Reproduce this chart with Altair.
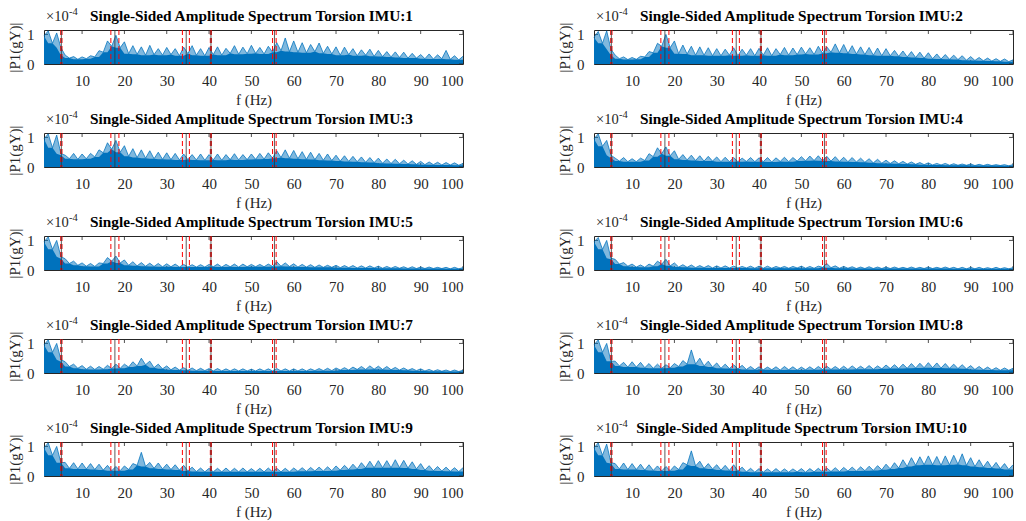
import altair as alt
import pandas as pd

# Frequency grid (Hz) and estimated |P1| envelope per IMU (alternating spike / band level),
# in units of 1e-6 (i.e. 0.01 x 1e-4)
FREQ = list(range(1, 101))

IMU1 = [95,112,70,105,55,30,20,25,16,24, 18,28,24,45,40,78,60,97,55,75,
        35,62,33,58,30,63,32,52,30,56, 32,52,28,57,35,62,30,52,28,56,
        32,58,30,53,36,62,33,57,35,63, 36,56,34,60,40,72,45,88,42,78,
        40,72,38,66,42,71,36,60,34,58, 30,57,32,52,28,48,30,50,26,46,
        25,42,24,41,22,40,20,36,20,32, 18,34,17,31,18,46,16,28,14,26]
IMU2 = [90,110,70,112,50,30,18,24,15,22, 16,26,24,42,38,70,60,100,55,78,
        35,64,34,60,30,58,30,55,28,52, 28,50,30,55,28,50,30,52,28,53,
        30,55,28,52,32,56,30,54,32,57, 34,55,32,60,36,58,40,68,38,66,
        36,62,34,58,32,56,30,54,28,52, 28,46,26,44,24,42,22,40,20,38,
        18,34,17,32,16,30,15,28,13,25, 12,22,11,20,10,18,9,17,8,14]
IMU3 = [95,112,65,108,45,40,28,46,26,44, 28,46,34,58,48,82,60,90,50,72,
        36,62,32,58,30,55,28,50,26,48, 25,46,24,44,25,42,24,44,23,42,
        24,44,23,42,25,45,24,42,25,44, 26,46,27,48,30,55,32,58,30,56,
        28,52,26,50,25,46,23,44,22,40, 20,38,19,36,18,34,16,32,15,30,
        13,27,12,26,11,23,10,21,9,19, 8,17,8,16,7,15,7,14,6,12]
IMU4 = [95,112,70,90,40,30,20,32,18,28, 18,30,22,45,35,65,45,68,38,55,
        26,42,24,40,22,38,20,36,20,34, 18,33,18,32,18,30,19,32,18,31,
        18,32,17,31,19,33,18,32,20,35, 21,37,22,38,21,36,20,35,19,33,
        18,32,17,30,16,28,14,26,13,23, 12,21,11,19,10,17,9,15,8,14,
        7,12,7,12,6,11,6,10,6,10, 5,9,5,9,5,8,5,8,4,8]
IMU5 = [95,112,70,100,45,38,22,30,16,24, 13,22,12,24,22,42,30,47,24,34,
        16,28,14,25,13,23,12,22,11,21, 11,20,10,19,10,18,10,18,10,19,
        11,20,10,19,11,20,10,20,11,19, 11,19,11,20,12,28,13,24,12,21,
        10,19,10,18,9,17,9,16,9,16, 8,15,8,15,7,14,7,14,7,13,
        6,12,6,12,6,11,5,11,5,10, 5,10,5,9,5,9,4,9,4,8]
IMU6 = [95,110,70,100,40,36,20,25,13,20, 10,17,9,20,13,30,20,36,14,24,
        10,18,9,17,8,15,8,15,7,14, 7,14,7,13,7,12,7,13,6,13,
        6,13,6,12,7,12,6,12,7,13, 6,12,6,13,9,22,8,14,6,12,
        6,11,5,10,5,11,5,10,5,10, 5,10,5,9,5,10,5,9,5,10,
        5,9,5,10,5,9,4,9,4,9, 4,9,4,8,4,9,4,8,4,8]
IMU7 = [95,112,70,100,45,38,22,30,16,25, 13,23,12,22,13,26,15,30,16,30,
        20,38,24,50,28,40,18,30,14,24, 11,20,10,18,9,17,8,16,8,15,
        7,15,7,14,7,14,7,14,7,13, 7,14,7,14,7,15,7,14,7,14,
        7,14,7,14,8,15,8,16,8,17, 10,18,10,20,12,22,12,24,13,23,
        12,22,11,19,10,17,9,15,8,14, 7,12,6,11,6,10,5,10,5,9]
IMU8 = [95,112,70,100,40,40,24,36,20,38, 20,36,18,32,16,30,16,28,18,32,
        22,42,30,78,30,50,24,40,20,34, 16,30,15,28,14,26,12,22,11,21,
        11,20,11,21,10,22,11,21,10,20, 11,21,11,22,12,23,12,22,12,23,
        12,24,13,23,13,25,13,24,14,27, 15,28,15,30,16,32,17,33,18,35,
        18,34,17,32,16,30,15,28,14,25, 12,22,11,20,10,18,9,17,9,16]
IMU9 = [95,112,70,100,45,46,26,45,24,44, 24,42,22,40,20,36,18,32,18,34,
        22,42,36,80,32,46,26,44,24,40, 22,38,20,36,17,30,15,27,14,26,
        14,26,14,27,14,26,14,27,14,25, 14,26,14,27,14,26,14,26,14,27,
        16,28,16,29,17,30,17,31,18,34, 20,36,22,40,24,45,28,50,28,52,
        28,52,28,55,28,53,27,48,24,42, 20,35,18,32,17,30,16,28,15,28]
IMU10 = [95,112,70,108,45,42,24,44,22,42, 22,40,20,38,19,34,17,32,18,34,
         22,45,38,85,34,50,26,42,24,38, 20,36,19,38,17,30,14,26,13,25,
         13,24,13,25,13,24,13,24,14,25, 13,25,14,26,14,27,15,28,15,29,
         17,30,17,31,18,33,19,35,21,40, 24,45,27,55,32,62,36,65,38,68,
         38,66,36,68,38,70,40,75,36,62, 32,55,30,50,27,46,25,42,22,38]

SERIES = [IMU1, IMU2, IMU3, IMU4, IMU5, IMU6, IMU7, IMU8, IMU9, IMU10]

# Marker frequencies (Hz)
RED_DASHED = [4.95, 5.25, 16.8, 18.7, 33.7, 35.35, 40.3, 40.55, 55.0, 55.85]
BLACK_SOLID = [5.1, 17.75, 34.6, 40.45, 55.45]

X_TICKS = [10, 20, 30, 40, 50, 60, 70, 80, 90, 100]
Y_TICKS = [0, 1]
X_DOMAIN = [1, 100]
Y_DOMAIN = [0, 1.15]

W, H = 419, 34
FONT = "Liberation Serif"
BLUE = "#0072BD"
AX = "#262626"

XAX = alt.Axis(values=X_TICKS, title="f (Hz)", labelPadding=9, titlePadding=4, format="d")
YAX = alt.Axis(values=Y_TICKS, title="|P1(gY)|", labelPadding=10, titlePadding=4, format="d")


def panel(idx, vals):
    df = pd.DataFrame({"f": FREQ, "a": [v / 100 for v in vals]})
    xsc = alt.Scale(domain=X_DOMAIN, nice=False, zero=False)
    ysc = alt.Scale(domain=Y_DOMAIN, nice=False)

    ticks_x = pd.DataFrame({"t": X_TICKS})
    ticks_y = pd.DataFrame({"t": Y_TICKS})

    bottom_ticks = alt.Chart(ticks_x).mark_rule(color=AX, strokeWidth=0.8).encode(
        x=alt.X("t:Q", scale=xsc, axis=XAX), y=alt.value(H - 4), y2=alt.value(H))
    top_ticks = alt.Chart(ticks_x).mark_rule(color=AX, strokeWidth=0.8).encode(
        x=alt.X("t:Q", scale=xsc, axis=XAX), y=alt.value(0), y2=alt.value(4))
    left_ticks = alt.Chart(ticks_y).mark_rule(color=AX, strokeWidth=0.8).encode(
        y=alt.Y("t:Q", scale=ysc, axis=YAX), x=alt.value(0), x2=alt.value(4))
    right_ticks = alt.Chart(ticks_y).mark_rule(color=AX, strokeWidth=0.8).encode(
        y=alt.Y("t:Q", scale=ysc, axis=YAX), x=alt.value(W - 4), x2=alt.value(W))

    base = alt.Chart(df)
    upper = base.mark_area(color=BLUE, interpolate="linear", opacity=0.5).encode(
        x=alt.X("f:Q", scale=xsc, axis=XAX),
        y=alt.Y("a:Q", scale=ysc, axis=YAX),
    )
    core = base.transform_window(
        core="min(a)", frame=[-1, 1], sort=[alt.SortField("f")]
    ).mark_area(color=BLUE, interpolate="linear").encode(
        x=alt.X("f:Q", scale=xsc, axis=XAX),
        y=alt.Y("core:Q", scale=ysc, axis=YAX),
    )
    spikes = base.mark_line(color=BLUE, strokeWidth=0.9, opacity=0.85,
                            interpolate="linear").encode(
        x=alt.X("f:Q", scale=xsc, axis=XAX),
        y=alt.Y("a:Q", scale=ysc, axis=YAX),
    )

    reds = alt.Chart(pd.DataFrame({"v": RED_DASHED})).mark_rule(
        color="#FF0000", strokeWidth=1, strokeDash=[5, 3]).encode(
        x=alt.X("v:Q", scale=xsc, axis=XAX))
    blacks = alt.Chart(pd.DataFrame({"v": BLACK_SOLID})).mark_rule(
        color="#333333", strokeWidth=0.8).encode(
        x=alt.X("v:Q", scale=xsc, axis=XAX))

    title = alt.Chart(pd.DataFrame({"s": [f"Single-Sided Amplitude Spectrum Torsion IMU:{idx}"]})).mark_text(
        align="center", baseline="alphabetic", font=FONT, fontSize=15.3, fontWeight="bold",
        color="#000000").encode(text="s:N", x=alt.value(W / 2 - 2), y=alt.value(-9))
    exp_base = alt.Chart(pd.DataFrame({"s": ["×10"]})).mark_text(
        align="left", baseline="alphabetic", font=FONT, fontSize=14.5, color=AX).encode(
        text="s:N", x=alt.value(2), y=alt.value(-9))
    exp_sup = alt.Chart(pd.DataFrame({"s": ["-4"]})).mark_text(
        align="left", baseline="alphabetic", font=FONT, fontSize=10.5, color=AX).encode(
        text="s:N", x=alt.value(25), y=alt.value(-15))

    return alt.layer(
        bottom_ticks, left_ticks, upper, core, spikes, reds, blacks, top_ticks, right_ticks,
        exp_base, exp_sup, title,
    ).properties(width=W, height=H)


panels = [panel(i + 1, s) for i, s in enumerate(SERIES)]

chart = alt.concat(*panels, columns=2, spacing=alt.RowColnumber(row=69, column=131),
                   bounds="flush").properties(
    padding={"left": 7, "top": 6, "right": 5, "bottom": 5},
    background="white",
).configure_view(
    stroke=AX, strokeWidth=1,
).configure_axis(
    domain=False, ticks=False, grid=False,
    labelFont=FONT, labelFontSize=15, labelColor=AX,
    titleFont=FONT, titleFontSize=15, titleFontWeight="normal", titleColor=AX,
)

chart.save("out.html", embed_options={"renderer": "svg", "actions": False})
